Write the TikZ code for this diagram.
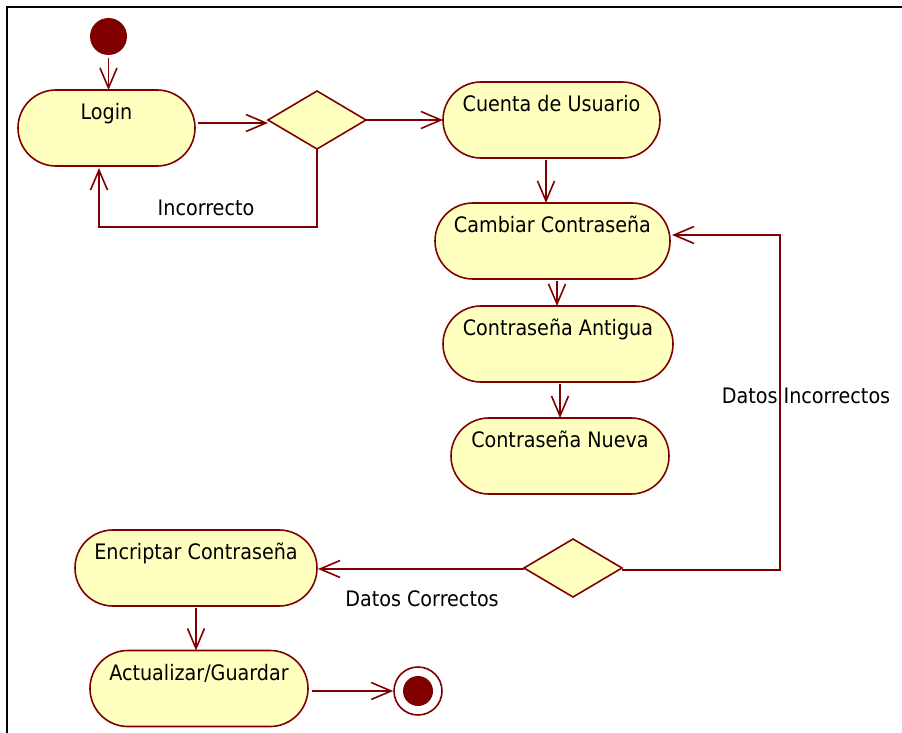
\documentclass[tikz,border=0pt]{standalone}
\usepackage{fontspec}
\setmainfont{DejaVu Sans Condensed}
\usetikzlibrary{arrows.meta,shapes.geometric}
\definecolor{umlred}{RGB}{128,0,0}
\definecolor{umlfill}{RGB}{255,255,192}
\tikzset{
  act/.style={rectangle, rounded corners=37.9pt, draw=umlred, fill=umlfill, line width=1.6pt,
    inner sep=0pt, outer sep=0pt, minimum height=76pt, text height=29.5pt, text depth=46.5pt,
    font=\fontsize{21.3}{24}\selectfont},
  dec/.style={diamond, draw=umlred, fill=umlfill, line width=1.6pt, inner sep=0pt, outer sep=0pt,
    minimum width=98pt, minimum height=58pt, aspect=1.69},
  arr/.style={draw=umlred, line width=1.6pt, -{Straight Barb[length=20pt,width=17pt,line width=1.6pt]}},
  lbl/.style={font=\fontsize{21.3}{24}\selectfont, inner sep=0pt}
}
\begin{document}
\begin{tikzpicture}[x=1pt,y=-1pt]
\useasboundingbox (0,0) rectangle (902,733);
\draw[line width=2pt] (7,733) -- (7,7) -- (902,7);

\node[circle, fill=umlred, minimum size=37pt, inner sep=0pt] (start) at (108.5,36.5) {};
\node[act, minimum width=177pt] (login) at (106.5,128) {Login};
\node[dec] (d1) at (317,120) {};
\node[act, minimum width=217pt] (cuenta) at (551.5,120) {Cuenta de Usuario};
\node[act, minimum width=235pt] (cambiar) at (552.5,241) {Cambiar Contraseña};
\node[act, minimum width=230pt] (antigua) at (558,344) {Contraseña Antigua};
\node[act, minimum width=218pt] (nueva) at (560,456) {Contraseña Nueva};
\node[dec] (d2) at (573,568) {};
\node[act, minimum width=242pt] (encriptar) at (196,568) {Encriptar Contraseña};
\node[act, minimum width=218pt] (actualizar) at (199,688.5) {Actualizar/Guardar};
\node[circle, draw=umlred, fill=white, line width=1.6pt, minimum size=48pt, inner sep=0pt] (endo) at (418,691) {};
\node[circle, fill=umlred, minimum size=30pt, inner sep=0pt] (endi) at (endo) {};

\coordinate (a0) at (start.south);
\coordinate (a1) at (546,0 |- cuenta.south);
\coordinate (a2) at (557,0 |- cambiar.south);
\coordinate (a3) at (560,0 |- antigua.south);
\coordinate (a4) at (99,0 |- login.south);

\draw[arr] ([yshift=-3pt]a0) -- (a0 |- login.north);
\draw[arr] ([xshift=3pt,yshift=5pt]login.east) -- ([yshift=-3pt]d1.west);
\draw[arr] (d1.east) -- (cuenta.west);
\draw[arr] (d1.south) -- ++(0,78) coordinate (c1) -| ([yshift=-2pt]a4);
\node[lbl] (lincorrecto) at (206,208) {Incorrecto};
\draw[arr] ([yshift=-2pt]a1) -- (a1 |- cambiar.north);
\draw[arr] ([yshift=-2pt]a2) -- (a2 |- antigua.north);
\draw[arr] ([yshift=-2pt]a3) -- (a3 |- nueva.north);
\draw[arr] ([yshift=-2pt]d2.east) -- (780,570) coordinate (c2) -- (780,235) -- ([xshift=2pt]cambiar.east |- 0,235);
\node[lbl] (ldi) at (806,396) {Datos Incorrectos};
\draw[arr] ([yshift=-1pt]d2.west) -- ([xshift=1pt]encriptar.east |- 0,569);
\node[lbl] (ldc) at (422,599) {Datos Correctos};
\draw[arr] ([yshift=-2pt]encriptar.south) -- (actualizar.north -| encriptar.south);
\draw[arr] ([xshift=4pt,yshift=-2.5pt]actualizar.east) -- (endo.west |- 0,691);
\end{tikzpicture}
\end{document}
